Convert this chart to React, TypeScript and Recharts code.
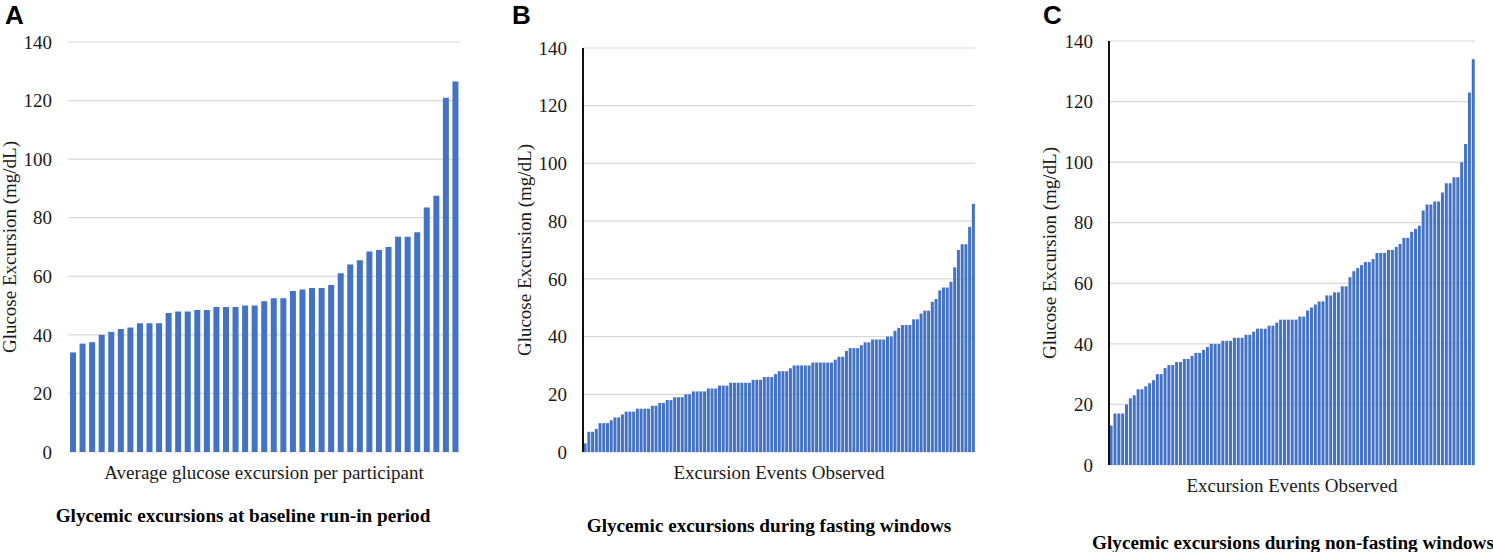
import React from "react";
import {
  BarChart,
  Bar,
  XAxis,
  YAxis,
  CartesianGrid,
} from "recharts";

// average excursion per participant (baseline run-in), sorted
const baselineValues = [
  34, 37, 37.5, 40, 41, 42, 42.5, 44, 44, 44, 47.5, 48, 48, 48.5, 48.5, 49.5,
  49.5, 49.5, 50, 50, 51.5, 52.5, 52.5, 55, 55.5, 56, 56, 57, 61, 64, 65.5,
  68.5, 69, 70, 73.5, 73.5, 75, 83.5, 87.5, 121, 126.5,
];

// excursion events during fasting windows, sorted
const fastingValues = [
  3, 7, 7, 8, 10, 10, 10, 11, 12, 12, 13, 14, 14, 14, 15, 15, 15, 15, 16, 16,
  17, 17, 18, 18, 19, 19, 19, 20, 20, 21, 21, 21, 21, 22, 22, 22, 23, 23, 23,
  24, 24, 24, 24, 24, 24, 25, 25, 25, 26, 26, 26, 27, 28, 28, 28, 29, 30, 30,
  30, 30, 30, 31, 31, 31, 31, 31, 31, 32, 33, 33, 35, 36, 36, 36, 37, 38, 38,
  39, 39, 39, 39, 40, 40, 42, 43, 44, 44, 44, 46, 46, 48, 49, 49, 52, 53, 56,
  57, 57, 59, 64, 70, 72, 72, 78, 86,
];

// excursion events during non-fasting windows, sorted
const nonFastingValues = [
  13, 17, 17, 17, 20, 22, 23, 25, 25, 26, 27, 28, 30, 30, 32, 33, 33, 34, 34,
  35, 35, 36, 37, 37, 38, 39, 40, 40, 40, 41, 41, 41, 42, 42, 42, 43, 43, 44,
  45, 45, 45, 46, 46, 47, 48, 48, 48, 48, 48, 49, 49, 51, 52, 53, 54, 54, 56,
  56, 57, 57, 59, 59, 62, 64, 65, 66, 67, 67, 68, 70, 70, 70, 71, 71, 72, 73,
  75, 75, 77, 78, 79, 84, 86, 86, 87, 87, 90, 93, 93, 95, 95, 100, 106, 123,
  134,
];

const yTicks = [0, 20, 40, 60, 80, 100, 120, 140];

const yLabel = "Glucose Excursion (mg/dL)";

const serif = "'Liberation Serif', 'Times New Roman', serif";
const barColor = "#4472C4";
const textColor = "#1a1a1a";

const toRows = (values: number[]) =>
  values.map((value, i) => ({ idx: i + 1, value }));

// y tick drawn by hand so the serif face is applied for sure
function SerifTick(props: any) {
  const { x, y, payload } = props;
  return (
    <text
      x={x}
      y={y}
      dy="0.35em"
      textAnchor="end"
      fontFamily={serif}
      fontSize={19}
      fill={textColor}
      style={{ fontFamily: serif }}
    >
      {payload.value}
    </text>
  );
}

interface PanelProps {
  values: number[];
  left: number;
  width: number;
  top: number;
  zeroY: number;
  axisWidth: number;
  rightGap: number;
  showAxisLine: boolean;
  xLabel: string;
  yLabelOffset: number;
  gap: string;
}

function Panel(props: PanelProps) {
  const {
    values,
    left,
    width,
    top,
    zeroY,
    axisWidth,
    rightGap,
    showAxisLine,
    xLabel,
    yLabelOffset,
    gap,
  } = props;
  const height = 552;
  return (
    <div style={{ position: "absolute", left, top: 0, width, height, fontFamily: serif }}>
      <BarChart
        width={width}
        height={height}
        data={toRows(values)}
        margin={{ top, right: rightGap, bottom: 0, left: 0 }}
        barCategoryGap={gap}
        style={{ fontFamily: serif }}
      >
        <CartesianGrid vertical={false} stroke="#d9d9d9" strokeWidth={1.2} />
        <XAxis
          dataKey="idx"
          height={height - zeroY}
          tick={false}
          tickLine={false}
          axisLine={false}
          label={{
            value: xLabel,
            position: "insideTop",
            offset: 14,
            style: { fontFamily: serif, fontSize: 19, fill: textColor },
          }}
        />
        <YAxis
          domain={[0, 140]}
          ticks={yTicks}
          width={axisWidth}
          tickLine={false}
          tickSize={0}
          tickMargin={16}
          axisLine={showAxisLine ? { stroke: "#111", strokeWidth: 2 } : false}
          tick={<SerifTick />}
          label={{
            value: yLabel,
            angle: -90,
            position: "insideLeft",
            offset: yLabelOffset,
            style: {
              textAnchor: "middle",
              fontFamily: serif,
              fontSize: 19,
              fill: textColor,
            },
          }}
        />
        <Bar dataKey="value" fill={barColor} isAnimationActive={false} />
      </BarChart>
    </div>
  );
}

const letterStyle: React.CSSProperties = {
  position: "absolute",
  top: 1,
  fontFamily: "'Liberation Sans', Arial, sans-serif",
  fontWeight: 700,
  fontSize: 26,
  lineHeight: "28px",
  color: "#000",
};

function Title({ text, cx, cy }: { text: string; cx: number; cy: number }) {
  return (
    <div
      style={{
        position: "absolute",
        left: cx,
        top: cy - 11,
        transform: "translateX(-50%)",
        whiteSpace: "nowrap",
        fontFamily: serif,
        fontWeight: 700,
        fontSize: 19.2,
        lineHeight: "22px",
        color: "#000",
      }}
    >
      {text}
    </div>
  );
}

export default function App() {
  return (
    <div
      style={{
        position: "absolute",
        left: 0,
        top: 0,
        width: 1493,
        height: 552,
        overflow: "hidden",
        background: "#fff",
        fontFamily: serif,
      }}
    >
      <Panel
        values={baselineValues}
        left={0}
        width={470}
        top={42}
        zeroY={452}
        axisWidth={68}
        rightGap={10}
        showAxisLine={false}
        xLabel="Average glucose excursion per participant"
        yLabelOffset={9}
        gap="21%"
      />
      <Panel
        values={fastingValues}
        left={500}
        width={485}
        top={48}
        zeroY={452}
        axisWidth={83}
        rightGap={10}
        showAxisLine={true}
        xLabel="Excursion Events Observed"
        yLabelOffset={24}
        gap="16%"
      />
      <Panel
        values={nonFastingValues}
        left={1000}
        width={493}
        top={41}
        zeroY={465}
        axisWidth={109}
        rightGap={18}
        showAxisLine={true}
        xLabel="Excursion Events Observed"
        yLabelOffset={49}
        gap="16%"
      />
      <div style={{ ...letterStyle, left: 5 }}>A</div>
      <div style={{ ...letterStyle, left: 512 }}>B</div>
      <div style={{ ...letterStyle, left: 1043 }}>C</div>
      <Title text="Glycemic excursions at baseline run-in period" cx={243} cy={516} />
      <Title text="Glycemic excursions during fasting windows" cx={769} cy={526} />
      <Title text="Glycemic excursions during non-fasting windows" cx={1293} cy={543} />
    </div>
  );
}
